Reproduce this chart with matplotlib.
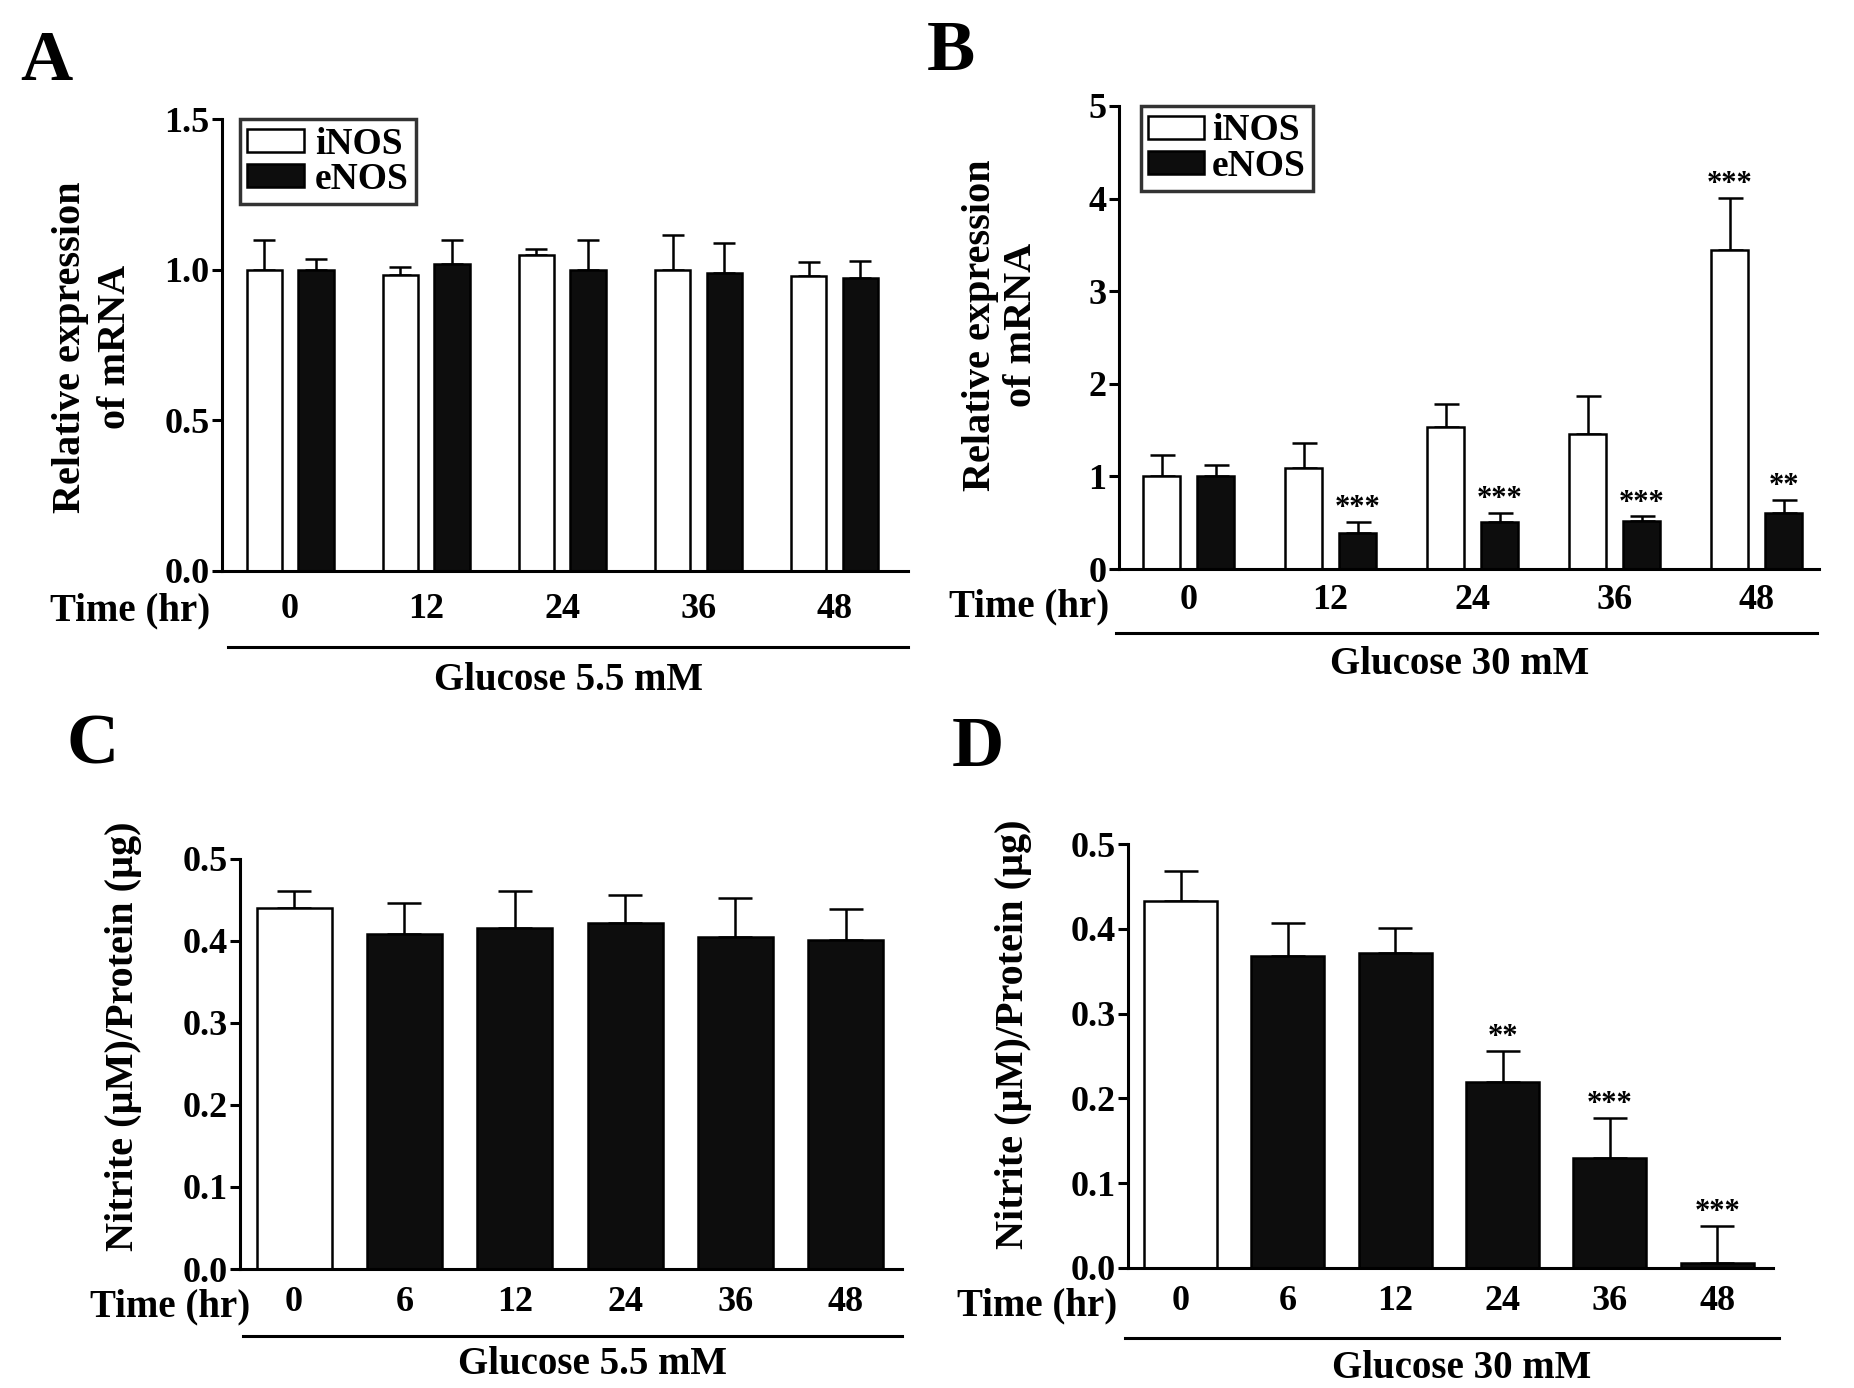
import matplotlib.pyplot as plt
import numpy as np
from matplotlib.lines import Line2D
from matplotlib.patches import Patch

plt.rcParams["font.family"] = ["Liberation Serif", "DejaVu Serif"]
plt.rcParams["font.weight"] = "bold"

W, H = 1854, 1388

# Painel A: glicose 5.5 mM, mRNA
times_ab = ["0", "12", "24", "36", "48"]
a_inos = [1.00, 0.985, 1.05, 1.00, 0.98]
a_inos_err = [0.10, 0.025, 0.02, 0.115, 0.045]
a_enos = [1.00, 1.02, 1.00, 0.99, 0.975]
a_enos_err = [0.035, 0.08, 0.10, 0.10, 0.055]

# Painel B: glicose 30 mM, mRNA
b_inos = [1.00, 1.09, 1.53, 1.46, 3.44]
b_inos_err = [0.23, 0.27, 0.25, 0.41, 0.57]
b_enos = [1.00, 0.39, 0.51, 0.52, 0.61]
b_enos_err = [0.12, 0.12, 0.10, 0.05, 0.14]
b_inos_sig = ["", "", "", "", "***"]
b_enos_sig = ["", "***", "***", "***", "**"]

# Painéis C e D: nitrito
times_cd = ["0", "6", "12", "24", "36", "48"]
c_vals = [0.440, 0.408, 0.416, 0.421, 0.405, 0.401]
c_err = [0.021, 0.038, 0.045, 0.035, 0.047, 0.037]
d_vals = [0.433, 0.368, 0.372, 0.219, 0.130, 0.006]
d_err = [0.035, 0.039, 0.029, 0.037, 0.047, 0.044]
d_sig = ["", "", "", "**", "***", "***"]

LW = 1.8
PRETO = "#0d0d0d"


def px(x, y):
    return x / W, 1 - y / H


def make_ax(fig, left, right, top, bottom):
    ax = fig.add_axes([left / W, 1 - bottom / H, (right - left) / W, (bottom - top) / H])
    for s in ["top", "right"]:
        ax.spines[s].set_visible(False)
    for s in ["left", "bottom"]:
        ax.spines[s].set_linewidth(2.2)
    ax.tick_params(axis="y", length=7, width=2.2, labelsize=26, pad=2)
    ax.tick_params(axis="x", length=0, labelsize=26)
    return ax


def errbars(ax, x, vals, err, cap):
    ax.errorbar(x, vals, yerr=[np.zeros(len(err)), err], fmt="none", ecolor="black",
                elinewidth=LW, capsize=cap, capthick=LW, zorder=1)


def stars(ax, x, vals, err, sig, size=22):
    for xi, v, e, s in zip(x, vals, err, sig):
        if s:
            ax.annotate(s, (xi, v + e), xytext=(0, 4), textcoords="offset points",
                        ha="center", va="baseline", fontsize=size)


def group_label(fig, x0, x1, yline, xt, yt, text, xtime, ytime):
    fig.add_artist(Line2D([x0 / W, x1 / W], [1 - yline / H] * 2, color="black", lw=2.2))
    fig.text(*px(xt, yt), text, ha="center", va="center", fontsize=28)
    fig.text(*px(xtime, ytime), "Time (hr)", ha="right", va="center", fontsize=28)


def nos_legend(ax, x0, pad):
    leg = ax.legend(handles=[Patch(facecolor="white", edgecolor="black", lw=LW, label="iNOS"),
                             Patch(facecolor=PRETO, edgecolor="black", lw=LW, label="eNOS")],
                    loc="upper left", bbox_to_anchor=(x0, 1.0), fontsize=27, frameon=True,
                    fancybox=False, edgecolor="black", borderpad=0.2, labelspacing=0.0,
                    handlelength=1.5, handleheight=0.55, handletextpad=pad, borderaxespad=0)
    leg.get_frame().set_linewidth(2.5)


fig = plt.figure(figsize=(W / 100, H / 100), dpi=100)

# ---- A ----
ax = make_ax(fig, 222, 908, 119.5, 571)
x = np.arange(len(times_ab))
w = 0.26
ax.bar(x - 0.19, a_inos, w, color="white", edgecolor="black", lw=LW, zorder=2)
ax.bar(x + 0.19, a_enos, w, color=PRETO, edgecolor="black", lw=LW, zorder=2)
errbars(ax, x - 0.19, a_inos, a_inos_err, 8)
errbars(ax, x + 0.19, a_enos, a_enos_err, 8)
ax.set_xlim(-0.5, 4.54)
ax.set_ylim(0, 1.5)
ax.set_yticks([0, 0.5, 1.0, 1.5])
ax.set_yticklabels(["0.0", "0.5", "1.0", "1.5"])
ax.set_xticks(x)
ax.set_xticklabels(times_ab)
ax.tick_params(axis="x", pad=16)
nos_legend(ax, 0.026, 0.3)
fig.text(*px(93, 347), "Relative expression\nof mRNA", rotation=90, ha="center",
         va="center", fontsize=29, linespacing=1.3, multialignment="center")
group_label(fig, 228, 908, 647, 568, 681, "Glucose 5.5 mM", 210, 611)
fig.text(*px(46, 63), "A", ha="center", va="center", fontsize=52)

# ---- B ----
ax = make_ax(fig, 1119, 1819, 106, 569)
ax.bar(x - 0.19, b_inos, w, color="white", edgecolor="black", lw=LW, zorder=2)
ax.bar(x + 0.19, b_enos, w, color=PRETO, edgecolor="black", lw=LW, zorder=2)
errbars(ax, x - 0.19, b_inos, b_inos_err, 9)
errbars(ax, x + 0.19, b_enos, b_enos_err, 9)
stars(ax, x - 0.19, b_inos, b_inos_err, b_inos_sig)
stars(ax, x + 0.19, b_enos, b_enos_err, b_enos_sig)
ax.set_xlim(-0.49, 4.44)
ax.set_ylim(0, 5)
ax.set_yticks(range(6))
ax.set_xticks(x)
ax.set_xticklabels(times_ab)
ax.tick_params(axis="x", pad=11)
nos_legend(ax, 0.031, 0.2)
fig.text(*px(1001, 325), "Relative expression\nof mRNA", rotation=90, ha="center",
         va="center", fontsize=29, linespacing=1.15, multialignment="center")
group_label(fig, 1116, 1817, 633, 1460, 665, "Glucose 30 mM", 1109, 607)
fig.text(*px(951, 52), "B", ha="center", va="center", fontsize=52)

# ---- C ----
ax = make_ax(fig, 240, 902, 858.6, 1269)
x6 = np.arange(len(times_cd))
cols = ["white"] + [PRETO] * (len(times_cd) - 1)
ax.bar(x6, c_vals, 0.68, color=cols, edgecolor="black", lw=LW, zorder=2)
errbars(ax, x6, c_vals, c_err, 12)
ax.set_xlim(-0.49, 5.51)
ax.set_ylim(0, 0.5)
ax.set_yticks(np.arange(0, 0.51, 0.1))
ax.set_yticklabels(["0.0", "0.1", "0.2", "0.3", "0.4", "0.5"])
ax.set_xticks(x6)
ax.set_xticklabels(times_cd)
ax.tick_params(axis="x", pad=12)
fig.text(*px(124, 1036), "Nitrite (µM)/Protein (µg)", rotation=90, ha="center",
         va="center", fontsize=29)
group_label(fig, 243, 902, 1336, 592, 1365, "Glucose 5.5 mM", 250, 1307)
fig.text(*px(93, 746), "C", ha="center", va="center", fontsize=52)

# ---- D ----
ax = make_ax(fig, 1128, 1773, 844, 1268)
ax.bar(x6, d_vals, 0.68, color=cols, edgecolor="black", lw=LW, zorder=2)
errbars(ax, x6, d_vals, d_err, 12)
stars(ax, x6, d_vals, d_err, d_sig)
ax.set_xlim(-0.49, 5.52)
ax.set_ylim(0, 0.5)
ax.set_yticks(np.arange(0, 0.51, 0.1))
ax.set_yticklabels(["0.0", "0.1", "0.2", "0.3", "0.4", "0.5"])
ax.set_xticks(x6)
ax.set_xticklabels(times_cd)
ax.tick_params(axis="x", pad=12)
fig.text(*px(1013, 1034), "Nitrite (µM)/Protein (µg)", rotation=90, ha="center",
         va="center", fontsize=29)
group_label(fig, 1125, 1779, 1338, 1462, 1369, "Glucose 30 mM", 1117, 1306)
fig.text(*px(978, 748), "D", ha="center", va="center", fontsize=52)

fig.savefig("out.png", dpi=100)
